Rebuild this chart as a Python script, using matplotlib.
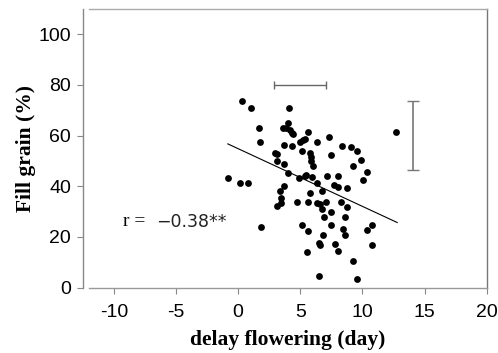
import matplotlib
matplotlib.use('Agg')
import matplotlib.pyplot as plt

# delay flowering (day) vs fill grain (%)
delay = [-0.83, 0.13, 0.83, 0.30, 1.05, 1.64, 1.74, 1.85, 2.93, 3.14,
         3.14, 3.36, 3.46, 3.41, 3.14, 3.57, 3.68, 3.73, 3.68, 3.84,
         4.11, 4.05, 4.16, 4.32, 4.43, 4.32, 4.05, 4.75, 4.86, 4.97,
         5.10, 5.23, 5.40, 5.13, 5.34, 5.45, 5.66, 5.66, 5.66, 5.77,
         5.83, 5.88, 5.99, 5.77, 5.93, 5.56, 6.36, 6.31, 6.36, 6.58,
         6.74, 6.74, 6.52, 6.58, 6.52, 6.90, 6.79, 7.06, 7.17, 7.33,
         7.44, 7.44, 7.44, 7.70, 7.76, 8.03, 8.03, 8.03, 8.24, 8.35,
         8.46, 8.56, 8.56, 8.72, 8.72, 9.10, 9.26, 9.53, 9.26, 9.53,
         9.85, 10.07, 10.34, 10.34, 10.77, 10.77, 12.70]
fill = [43.4, 41.4, 41.4, 73.6, 70.9, 62.8, 57.5, 24.1, 53.0, 52.8,
        49.9, 38.2, 35.4, 33.3, 32.1, 62.8, 48.6, 56.1, 40.1, 62.8,
        70.9, 65.0, 62.1, 60.9, 60.7, 55.7, 45.1, 33.8, 43.3, 57.4,
        53.7, 58.3, 58.8, 24.7, 44.2, 44.6, 61.3, 22.5, 33.8, 53.3,
        51.7, 49.9, 48.0, 37.5, 43.8, 14.2, 57.5, 41.3, 33.3, 33.0,
        38.2, 30.9, 17.8, 16.8, 4.6, 28.0, 20.7, 33.8, 44.1, 59.6,
        52.2, 29.9, 24.7, 40.5, 17.2, 39.6, 44.2, 14.5, 33.8, 55.9,
        23.0, 28.0, 20.9, 39.3, 31.7, 55.4, 47.8, 53.8, 10.7, 3.6,
        50.4, 42.5, 45.7, 22.8, 24.6, 17.0, 61.2]

# regression line end points
trend_x = [-0.83, 12.8]
trend_y = [56.7, 25.7]

# error bars (LSD)
hbar_x, hbar_y, hbar_err = 5.0, 80.0, 2.1
vbar_x, vbar_y, vbar_err = 14.04, 60.05, 13.65

xticks = [-10, -5, 0, 5, 10, 15, 20]
yticks = [0, 20, 40, 60, 80, 100]

fig = plt.figure(figsize=(4.98, 3.53), dpi=100)
ax = fig.add_axes([89 / 498, 1 - 287.7 / 353, (486.7 - 89) / 498, (287.7 - 8.7) / 353])

ax.scatter(delay, fill, s=24, color='black', linewidths=0, zorder=3)
ax.plot(trend_x, trend_y, color='black', lw=0.8)

ax.errorbar(hbar_x, hbar_y, xerr=hbar_err, fmt='none', ecolor='#666666',
            elinewidth=1.0, capsize=3, capthick=1.0)
ax.errorbar(vbar_x, vbar_y, yerr=vbar_err, fmt='none', ecolor='#777777',
            elinewidth=1.2, capsize=4, capthick=1.0)

ax.text(-9.26, 26, 'r =', family='Liberation Serif', fontsize=14,
        va='center', ha='left')
ax.text(-6.6, 26, '\u22120.38**', family='DejaVu Sans', fontsize=12.5,
        va='center', ha='left', color='#222222')

ax.set_xlim(-12, 20)
ax.set_ylim(0, 110)
ax.set_xticks(xticks)
ax.set_yticks(yticks)
ax.set_xticklabels([str(t) for t in xticks])

ax.tick_params(axis='both', direction='out', length=4, width=0.8,
               color='#888888', labelsize=14,
               labelfontfamily='Liberation Sans')
ax.tick_params(axis='x', pad=8)
ax.tick_params(axis='y', pad=5)

ax.spines['left'].set_position(('outward', 4))
ax.spines['left'].set_color('#888888')
ax.spines['bottom'].set_color('#999999')
ax.spines['top'].set_color('#aaaaaa')
ax.spines['right'].set_color('#777777')
for s in ax.spines.values():
    s.set_linewidth(1.0)

ax.set_xlabel('delay flowering (day)', family='Liberation Serif',
              fontweight='bold', fontsize=15.5, labelpad=6)
ax.set_ylabel('Fill grain (%)', family='Liberation Serif',
              fontweight='bold', fontsize=15.5, labelpad=1.5)

fig.savefig('out.png', dpi=100)
